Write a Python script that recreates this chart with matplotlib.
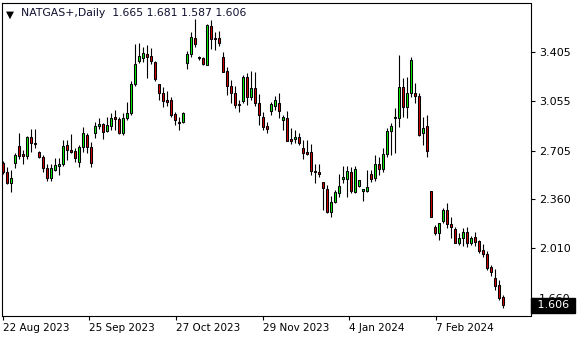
import numpy as np
import matplotlib
matplotlib.use("Agg")
import matplotlib.pyplot as plt

# daily OHLC (22 Aug 2023 .. mid Feb 2024)
opens = [2.619, 2.551, 2.477, 2.619, 2.737, 2.681, 2.668, 2.803, 2.761, 2.693,
         2.661, 2.579, 2.512, 2.567, 2.597, 2.607, 2.744, 2.709, 2.702, 2.622,
         2.732, 2.816, 2.728, 2.828, 2.879, 2.892, 2.844, 2.879, 2.941, 2.927,
         2.832, 2.934, 2.974, 3.176, 3.343, 3.365, 3.389, 3.377, 3.332, 3.176,
         3.112, 3.064, 3.064, 2.963, 2.910, 2.906, 3.325, 3.389, 3.502, 3.366,
         3.365, 3.313, 3.590, 3.502, 3.502, 3.370, 3.270, 3.164, 3.112, 3.036,
         3.059, 3.230, 3.088, 3.149, 3.041, 2.943, 2.879, 2.988, 3.024, 3.043,
         2.919, 2.934, 2.787, 2.785, 2.799, 2.721, 2.695, 2.693, 2.562, 2.551,
         2.480, 2.430, 2.271, 2.342, 2.401, 2.501, 2.501, 2.551, 2.414, 2.455,
         2.418, 2.418, 2.536, 2.508, 2.607, 2.572, 2.678, 2.844, 2.938, 2.934,
         3.159, 3.017, 3.112, 3.112, 3.093, 2.832, 2.879, 2.418, 2.160, 2.122,
         2.207, 2.283, 2.183, 2.146, 2.051, 2.086, 2.125, 2.046, 2.093, 2.063,
         1.999, 1.968, 1.876, 1.798, 1.748, 1.665]
highs = [2.633, 2.590, 2.567, 2.686, 2.832, 2.709, 2.808, 2.858, 2.858, 2.702,
         2.673, 2.610, 2.610, 2.654, 2.650, 2.780, 2.780, 2.823, 2.721, 2.744,
         2.875, 2.828, 2.768, 2.910, 2.934, 2.899, 2.941, 2.970, 2.993, 2.946,
         2.970, 3.052, 3.201, 3.460, 3.467, 3.443, 3.455, 3.431, 3.343, 3.176,
         3.159, 3.128, 3.088, 2.981, 2.946, 2.977, 3.412, 3.549, 3.639, 3.379,
         3.372, 3.602, 3.632, 3.547, 3.554, 3.407, 3.298, 3.206, 3.164, 3.064,
         3.242, 3.254, 3.270, 3.263, 3.107, 2.979, 2.910, 3.052, 3.093, 3.112,
         2.958, 2.988, 2.865, 2.851, 2.832, 2.780, 2.780, 2.752, 2.610, 2.610,
         2.480, 2.460, 2.382, 2.425, 2.539, 2.595, 2.595, 2.586, 2.595, 2.496,
         2.432, 2.567, 2.567, 2.673, 2.659, 2.721, 2.863, 2.899, 3.005, 3.384,
         3.218, 3.225, 3.372, 3.183, 3.112, 2.946, 2.958, 2.421, 2.176, 2.188,
         2.295, 2.335, 2.235, 2.164, 2.117, 2.153, 2.160, 2.098, 2.129, 2.070,
         2.041, 1.992, 1.894, 1.862, 1.786, 1.681]
lows = [2.539, 2.465, 2.413, 2.579, 2.644, 2.610, 2.644, 2.697, 2.725, 2.650,
        2.555, 2.491, 2.491, 2.562, 2.531, 2.597, 2.638, 2.690, 2.626, 2.590,
        2.697, 2.686, 2.590, 2.792, 2.856, 2.785, 2.839, 2.851, 2.851, 2.823,
        2.816, 2.922, 2.958, 3.166, 3.325, 3.332, 3.218, 3.318, 3.201, 3.064,
        3.017, 3.024, 2.946, 2.887, 2.851, 2.899, 3.284, 3.370, 3.443, 3.348,
        3.313, 3.313, 3.426, 3.419, 3.448, 3.265, 3.100, 3.046, 3.007, 2.981,
        3.041, 3.029, 3.064, 3.022, 2.887, 2.851, 2.833, 2.958, 2.993, 2.936,
        2.851, 2.775, 2.752, 2.759, 2.744, 2.644, 2.673, 2.531, 2.477, 2.520,
        2.283, 2.264, 2.231, 2.330, 2.375, 2.472, 2.377, 2.401, 2.401, 2.448,
        2.350, 2.413, 2.484, 2.489, 2.531, 2.553, 2.661, 2.673, 2.686, 2.870,
        2.946, 2.934, 3.088, 3.045, 2.808, 2.744, 2.661, 2.233, 2.105, 2.070,
        2.188, 2.153, 2.084, 2.046, 2.034, 2.027, 2.022, 2.034, 2.027, 1.980,
        1.947, 1.857, 1.811, 1.715, 1.644, 1.587]
closes = [2.555, 2.477, 2.508, 2.673, 2.668, 2.668, 2.803, 2.757, 2.750, 2.657,
          2.579, 2.512, 2.579, 2.602, 2.610, 2.737, 2.709, 2.697, 2.650, 2.728,
          2.828, 2.732, 2.615, 2.879, 2.894, 2.839, 2.887, 2.934, 2.931, 2.832,
          2.934, 2.974, 3.178, 3.318, 3.377, 3.396, 3.372, 3.341, 3.211, 3.112,
          3.057, 3.052, 2.958, 2.922, 2.899, 2.970, 3.389, 3.509, 3.460, 3.360,
          3.318, 3.597, 3.495, 3.495, 3.467, 3.265, 3.166, 3.116, 3.029, 3.029,
          3.230, 3.088, 3.149, 3.041, 2.961, 2.875, 2.856, 3.036, 3.064, 2.988,
          2.941, 2.775, 2.775, 2.799, 2.761, 2.690, 2.684, 2.562, 2.551, 2.539,
          2.437, 2.271, 2.343, 2.409, 2.453, 2.515, 2.560, 2.420, 2.574, 2.496,
          2.432, 2.446, 2.503, 2.607, 2.572, 2.678, 2.844, 2.879, 2.941, 3.154,
          3.017, 3.112, 3.348, 3.095, 2.816, 2.863, 2.701, 2.235, 2.122, 2.188,
          2.283, 2.181, 2.164, 2.051, 2.084, 2.125, 2.046, 2.086, 2.058, 1.992,
          1.968, 1.873, 1.845, 1.743, 1.658, 1.606]

price_ticks = [3.405, 3.055, 2.705, 2.360, 2.010, 1.660]
date_labels = ["22 Aug 2023", "25 Sep 2023", "27 Oct 2023",
               "29 Nov 2023", "4 Jan 2024", "7 Feb 2024"]
date_pos = [-0.16, 21.5, 43.2, 64.85, 86.5, 108.2]  # bar index of each label

o = np.array(opens)
h = np.array(highs)
l = np.array(lows)
c = np.array(closes)
idx = np.arange(len(o))
up = c >= o

fig = plt.figure(figsize=(5.8, 3.4), dpi=100)
ax = fig.add_axes([2 / 580, 24 / 340, 528.5 / 580, 313 / 340])

ax.vlines(idx, l, h, color="black", linewidth=0.8, zorder=2)
bottom = np.minimum(o, c)
height = np.maximum(np.abs(c - o), 0.002)
colors = np.where(up, "#00f000", "#d40000")
ax.bar(idx, height, bottom=bottom, width=0.55, color=colors,
       edgecolor="black", linewidth=0.75, zorder=3)

ax.set_xlim(-0.33, 131.85)
ax.set_ylim(1.530, 3.753)

ax.yaxis.tick_right()
ax.set_yticks(price_ticks)
ax.set_yticklabels([f"{p:.3f}" for p in price_ticks])
ax.tick_params(axis="y", length=3, width=0.8, pad=3, labelsize=8)
ax.set_xticks(date_pos)
ax.set_xticklabels(date_labels, ha="left")
ax.tick_params(axis="x", length=3, width=0.8, pad=2, labelsize=7.5)
for s in ax.spines.values():
    s.set_linewidth(0.8)

# current price marker (covers the 1.660 label like the terminal does)
last = closes[-1]
ax.text(1.006, (last - 1.530) / (3.753 - 1.530), f" {last:.3f} ",
        transform=ax.transAxes, ha="left", va="center", color="white",
        fontsize=8, zorder=10, clip_on=False,
        bbox=dict(boxstyle="square,pad=0.2", fc="black", ec="black"))

# header
ax.text(0.007, 0.978, "\u25bc", transform=ax.transAxes, ha="left", va="top",
        fontsize=7.5, color="black")
ax.text(0.036, 0.985, "NATGAS+,Daily  %.3f %.3f %.3f %.3f"
        % (opens[-1], highs[-1], lows[-1], closes[-1]),
        transform=ax.transAxes, ha="left", va="top", fontsize=7.8,
        color="#101030")

fig.savefig("out.png", dpi=100)
